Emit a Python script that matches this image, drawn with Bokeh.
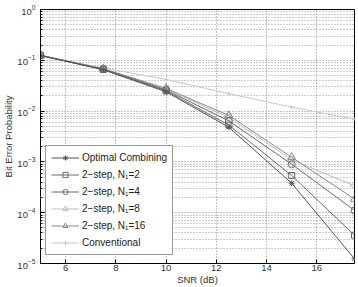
import numpy as np
from bokeh.plotting import figure
from bokeh.models import Legend, LegendItem, FixedTicker, Range1d
from bokeh.embed import file_html
from bokeh.resources import INLINE

snr = [5, 7.5, 10, 12.5, 15, 17.5]
optimal = [0.124, 0.065, 0.024, 4.8e-3, 3.8e-4, 1.24e-5]
n1_2 = [0.124, 0.066, 0.025, 5.3e-3, 5.4e-4, 3.6e-5]
n1_4 = [0.125, 0.067, 0.026, 6.4e-3, 9.0e-4, 1.11e-4]
n1_8 = [0.125, 0.067, 0.027, 7.5e-3, 1.1e-3, 3.4e-4]
n1_16 = [0.126, 0.068, 0.028, 8.2e-3, 1.23e-3, 1.86e-4]
conventional = [0.122, 0.071, 0.042, 0.022, 0.012, 0.0069]

labels = ["Optimal Combining", "2\u2212step, N\u2081=2", "2\u2212step, N\u2081=4",
          "2\u2212step, N\u2081=8", "2\u2212step, N\u2081=16", "Conventional"]
x_ticks = [6, 8, 10, 12, 14, 16]
y_ticks = [1e-5, 1e-4, 1e-3, 1e-2, 1e-1, 1e0]

FONT = "Liberation Sans"

p = figure(width=358, height=287, output_backend="svg", toolbar_location=None,
           y_axis_type="log", x_range=Range1d(5, 17.5), y_range=Range1d(1e-5, 1),
           min_border_left=33, min_border_right=4, min_border_top=9, min_border_bottom=22)

minor = [m * 10.0 ** e for e in range(-5, 0) for m in range(2, 10)]
p.yaxis.ticker = FixedTicker(ticks=y_ticks, minor_ticks=minor)
p.xaxis.ticker = FixedTicker(ticks=x_ticks)

for ax in (p.xaxis, p.yaxis):
    ax.major_label_text_font = FONT
    ax.major_label_text_font_size = "9.5px"
    ax.axis_label_text_font = FONT
    ax.axis_label_text_font_size = "9.5px"
    ax.axis_label_text_font_style = "normal"
    ax.major_tick_in = 4
    ax.major_tick_out = 0
    ax.minor_tick_in = 2
    ax.minor_tick_out = 0
    ax.axis_line_color = "black"
    ax.major_tick_line_color = "black"
    ax.minor_tick_line_color = "black"
    ax.major_label_text_color = "#333333"
    ax.axis_label_text_color = "#333333"

p.xaxis.axis_label = "SNR (dB)"
p.yaxis.axis_label = "Bit Error Probability"
p.xaxis.major_label_standoff = 1
p.xaxis.axis_label_standoff = 0
p.yaxis.major_label_standoff = 5
p.yaxis.axis_label_standoff = 0

p.xgrid.grid_line_color = "#888888"
p.xgrid.grid_line_dash = "1 2"
p.ygrid.grid_line_color = "#888888"
p.ygrid.grid_line_dash = "1 2"
p.ygrid.minor_grid_line_color = "#999999"
p.ygrid.minor_grid_line_dash = "1 2"

p.outline_line_color = "black"
p.outline_line_alpha = 1

items = []

def series(y, color, marker, label, size=7, angle=0.0, width=1.0):
    r = p.line(snr, y, line_color=color, line_width=width)
    m = p.scatter(snr, y, marker=marker, size=size, line_color=color, fill_color=None,
                  angle=angle, line_width=1)
    items.append(LegendItem(label=label, renderers=[r, m]))

series(conventional, "#c8c8c8", "cross", labels[5], size=4)
series(n1_8, "#bdbdbd", "triangle", labels[3], size=8, angle=np.pi / 2)
series(n1_16, "#8a8a8a", "triangle", labels[4], size=8)
series(n1_4, "#6a6a6a", "circle", labels[2], size=7)
series(n1_2, "#6a6a6a", "square", labels[1], size=6)
series(optimal, "#555555", "asterisk", labels[0], size=6)

items_sorted = sorted(items, key=lambda it: labels.index(it.label.value))

legend = Legend(items=items_sorted, location=(5, 8), label_text_font=FONT,
                label_text_font_size="10px", label_text_color="#222222",
                glyph_width=28, glyph_height=13, label_height=13, spacing=4,
                padding=5, margin=0, label_standoff=3,
                border_line_color="#333333", background_fill_alpha=1)
p.add_layout(legend, "center")

open("out.html", "w").write(file_html(p, INLINE))
